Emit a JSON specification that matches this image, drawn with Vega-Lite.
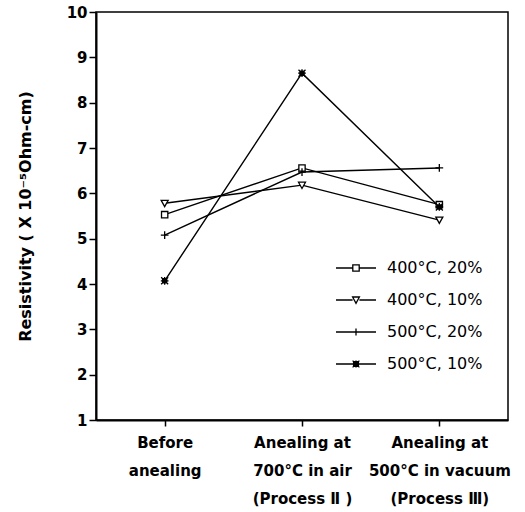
{
  "$schema": "https://vega.github.io/schema/vega-lite/v6.json",
  "width": 412,
  "height": 408,
  "autosize": "none",
  "padding": {"left": 96, "top": 12, "right": 17, "bottom": 92},
  "background": "white",
  "config": {
    "font": "DejaVu Sans",
    "view": {"stroke": "black", "strokeWidth": 1.5},
    "axis": {
      "domainColor": "black",
      "domainWidth": 2,
      "tickColor": "black",
      "tickWidth": 1.5,
      "grid": false,
      "labelColor": "black",
      "labelFont": "DejaVu Sans",
      "labelFontSize": 15,
      "labelFontWeight": "bold",
      "titleColor": "black",
      "titleFont": "DejaVu Sans"
    }
  },
  "data": {
    "values": [
      {"stage": "Before|anealing", "series": "400°C, 20%", "resistivity": 5.53},
      {"stage": "Anealing at|700°C in air|(Process Ⅱ )", "series": "400°C, 20%", "resistivity": 6.56},
      {"stage": "Anealing at|500°C in vacuum|(Process Ⅲ)", "series": "400°C, 20%", "resistivity": 5.75},
      {"stage": "Before|anealing", "series": "400°C, 10%", "resistivity": 5.78},
      {"stage": "Anealing at|700°C in air|(Process Ⅱ )", "series": "400°C, 10%", "resistivity": 6.18},
      {"stage": "Anealing at|500°C in vacuum|(Process Ⅲ)", "series": "400°C, 10%", "resistivity": 5.41},
      {"stage": "Before|anealing", "series": "500°C, 20%", "resistivity": 5.08},
      {"stage": "Anealing at|700°C in air|(Process Ⅱ )", "series": "500°C, 20%", "resistivity": 6.47},
      {"stage": "Anealing at|500°C in vacuum|(Process Ⅲ)", "series": "500°C, 20%", "resistivity": 6.56},
      {"stage": "Before|anealing", "series": "500°C, 10%", "resistivity": 4.07},
      {"stage": "Anealing at|700°C in air|(Process Ⅱ )", "series": "500°C, 10%", "resistivity": 8.65},
      {"stage": "Anealing at|500°C in vacuum|(Process Ⅲ)", "series": "500°C, 10%", "resistivity": 5.70}
    ]
  },
  "encoding": {
    "x": {
      "field": "stage",
      "type": "ordinal",
      "sort": null,
      "scale": {"type": "point", "padding": 0.5},
      "axis": {
        "title": null,
        "labelAngle": 0,
        "labelExpr": "split(datum.label, '|')",
        "labelLineHeight": 28,
        "labelPadding": 9,
        "labelBaseline": "top",
        "tickSize": 6
      }
    },
    "y": {
      "field": "resistivity",
      "type": "quantitative",
      "scale": {"domain": [1, 10], "nice": false, "zero": false},
      "axis": {
        "values": [1, 2, 3, 4, 5, 6, 7, 8, 9, 10],
        "title": "Resistivity ( X 10⁻⁵Ohm-cm)",
        "titleFontSize": 16,
        "titleFontWeight": "bold",
        "titlePadding": 33,
        "tickSize": 7,
        "labelPadding": 2
      }
    }
  },
  "layer": [
    {
      "mark": {"type": "line", "color": "black", "strokeWidth": 1.4},
      "encoding": {"detail": {"field": "series"}}
    },
    {
      "mark": {"type": "point", "filled": false, "color": "black", "fill": "white", "fillOpacity": 1, "opacity": 1, "strokeWidth": 1.3, "size": 49},
      "encoding": {
        "shape": {
          "field": "series",
          "scale": {
            "domain": ["400°C, 20%", "400°C, 10%", "500°C, 20%", "500°C, 10%"],
            "range": [
              "M-0.9,-0.9H0.9V0.9H-0.9Z",
              "M-1,-0.85H1L0,0.95Z",
              "M-1.1,0H1.1M0,-1.1V1.1",
              "M-1,-1L1,1M-1,1L1,-1M-1.1,0H1.1M0,-1.1V1.1M-0.6,-0.6H0.6V0.6H-0.6Z"
            ]
          },
          "legend": null
        }
      }
    },
    {
      "mark": {"type": "point", "filled": false, "color": "black", "opacity": 0},
      "encoding": {
        "shape": {
          "field": "series",
          "title": null,
          "scale": {
            "domain": ["400°C, 20%", "400°C, 10%", "500°C, 20%", "500°C, 10%"],
            "range": [
              "M-1,0H-0.16M0.16,0H1M-0.16,-0.16H0.16V0.16H-0.16Z",
              "M-1,0H-0.17M0.17,0H1M-0.17,-0.15H0.17L0,0.17Z",
              "M-1,0H1M0,-0.17V0.17",
              "M-1,0H1M-0.17,-0.17L0.17,0.17M-0.17,0.17L0.17,-0.17M0,-0.18V0.18M-0.12,-0.12H0.12V0.12H-0.12Z"
            ]
          },
          "legend": {
            "orient": "none",
            "legendX": 239,
            "legendY": 235,
            "symbolSize": 1600,
            "symbolOpacity": 1,
            "symbolStrokeColor": "black",
            "symbolStrokeWidth": 1.3,
            "symbolFillColor": "transparent",
            "labelFont": "DejaVu Sans",
            "labelFontSize": 16,
            "labelColor": "black",
            "labelOffset": 10,
            "rowPadding": 3
          }
        }
      }
    }
  ],
  "resolve": {"scale": {"shape": "independent"}}
}
